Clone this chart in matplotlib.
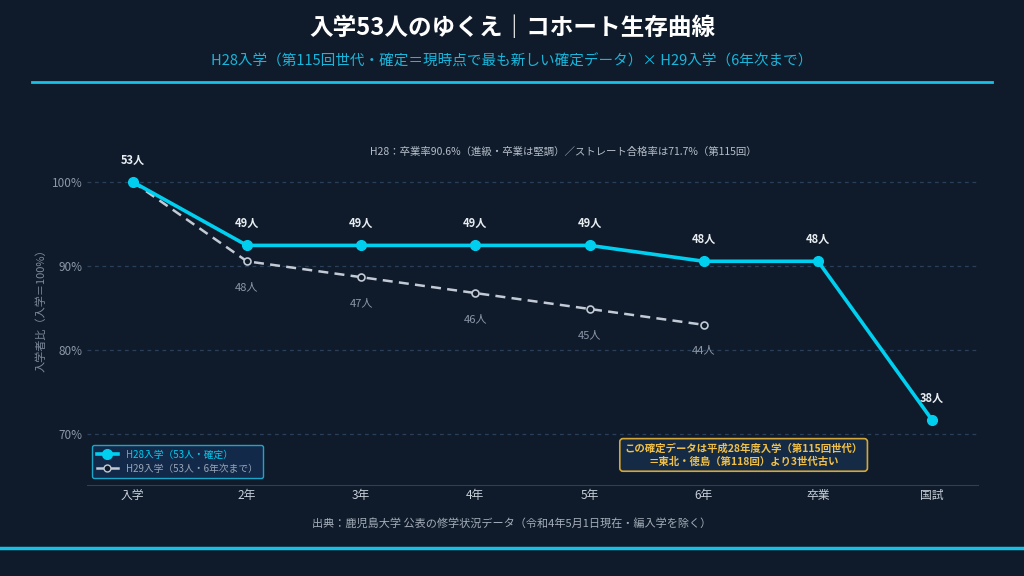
import matplotlib
matplotlib.use("Agg")
import matplotlib.pyplot as plt
from matplotlib.lines import Line2D

plt.rcParams['font.family'] = ['Noto Sans CJK JP', 'DejaVu Sans']

# data
stages = ["入学", "2年", "3年", "4年", "5年", "6年", "卒業", "国試"]
h28_counts = [53, 49, 49, 49, 49, 48, 48, 38]
h29_counts = [53, 48, 47, 46, 45, 44]
base = 53

h28_pct = [c / base * 100 for c in h28_counts]
h29_pct = [c / base * 100 for c in h29_counts]

BG = "#0f1b2a"
CYAN = "#00cff0"
GREY = "#c2cad6"
GRID = "#2a3f5a"
GOLD = "#f0c048"

fig = plt.figure(figsize=(10.24, 5.76), dpi=100, facecolor=BG)
ax = fig.add_axes([0.085, 0.158, 0.87, 0.614])
ax.set_facecolor(BG)

x28 = list(range(len(h28_counts)))
x29 = list(range(len(h29_counts)))

ax.plot(x29, h29_pct, color=GREY, lw=1.8, ls=(0, (4, 2.5)), marker="o",
        ms=5, mfc=BG, mec=GREY, mew=1.2, zorder=3)
ax.plot(x28, h28_pct, color=CYAN, lw=2.6, marker="o", ms=7, mfc=CYAN,
        mec=CYAN, zorder=4)

for xi, p, c in zip(x28, h28_pct, h28_counts):
    ax.annotate(f"{c}人", (xi, p), xytext=(0, 11), textcoords="offset points",
                ha="center", va="bottom", color="#e8edf2", fontsize=8,
                fontweight="bold")
for xi, p, c in zip(x29[1:], h29_pct[1:], h29_counts[1:]):
    ax.annotate(f"{c}人", (xi, p), xytext=(0, -15), textcoords="offset points",
                ha="center", va="top", color="#8a97a8", fontsize=8)

ax.set_xlim(-0.4, 7.4)
ax.set_ylim(64, 106)
ax.set_xticks(x28)
ax.set_xticklabels(stages, color="#c8d0da", fontsize=8.5)
ax.set_yticks([70, 80, 90, 100])
ax.set_yticklabels(["70%", "80%", "90%", "100%"], color="#8a97a8", fontsize=8.5)
ax.tick_params(length=0, pad=3)
ax.grid(axis="y", color=GRID, ls=(0, (3, 3)), lw=0.9)
for s in ["top", "right", "left"]:
    ax.spines[s].set_visible(False)
ax.spines["bottom"].set_color(GRID)
ax.set_ylabel("入学者比（入学＝100%）", color="#7d8a9c", fontsize=8, labelpad=4)

handles = [
    Line2D([], [], color=CYAN, lw=2.6, marker="o", ms=7, mfc=CYAN, mec=CYAN),
    Line2D([], [], color=GREY, lw=1.8, marker="o", ms=5, mfc=BG, mec=GREY),
]
leg = ax.legend(handles, ["H28入学（53人・確定）", "H29入学（53人・6年次まで）"],
                loc="lower left", bbox_to_anchor=(0.0, 0.005), fontsize=7,
                facecolor="#13294a", edgecolor="#1aa6c8", framealpha=1,
                handlelength=2.2, borderpad=0.5, labelspacing=0.4)
leg.get_frame().set_linewidth(1.0)
leg.get_texts()[0].set_color(CYAN)
leg.get_texts()[1].set_color("#9aa6b6")

ax.text(0.535, 0.942, "H28：卒業率90.6%（進級・卒業は堅調）／ストレート合格率は71.7%（第115回）",
        transform=ax.transAxes, ha="center", va="center", color="#b5bec9",
        fontsize=7.5)

ax.text(0.737, 0.085, "この確定データは平成28年度入学（第115回世代）\n＝東北・徳島（第118回）より3世代古い",
        transform=ax.transAxes, ha="center", va="center", color=GOLD,
        fontsize=7.5, fontweight="bold", linespacing=1.3,
        bbox=dict(boxstyle="round,pad=0.45,rounding_size=0.3", fc="#142a45",
                  ec="#d4a838", lw=1.2))

fig.text(0.5, 1 - 28 / 576, "入学53人のゆくえ｜コホート生存曲線", ha="center",
         va="center", color="white", fontsize=17, fontweight="bold")
fig.text(0.5, 1 - 61 / 576,
         "H28入学（第115回世代・確定＝現時点で最も新しい確定データ）× H29入学（6年次まで）",
         ha="center", va="center", color="#19b6dc", fontsize=10.5)
fig.add_artist(Line2D([32 / 1024, 992 / 1024], [1 - 82 / 576, 1 - 82 / 576],
                      color="#19c0e6", lw=2))
fig.text(0.5, 1 - 523 / 576,
         "出典：鹿児島大学 公表の修学状況データ（令和4年5月1日現在・編入学を除く）",
         ha="center", va="center", color="#a4adb9", fontsize=8)
fig.add_artist(Line2D([0, 1], [1 - 548 / 576, 1 - 548 / 576],
                      color="#19c0e6", lw=2.5))

fig.savefig("out.png", dpi=100, facecolor=BG)
